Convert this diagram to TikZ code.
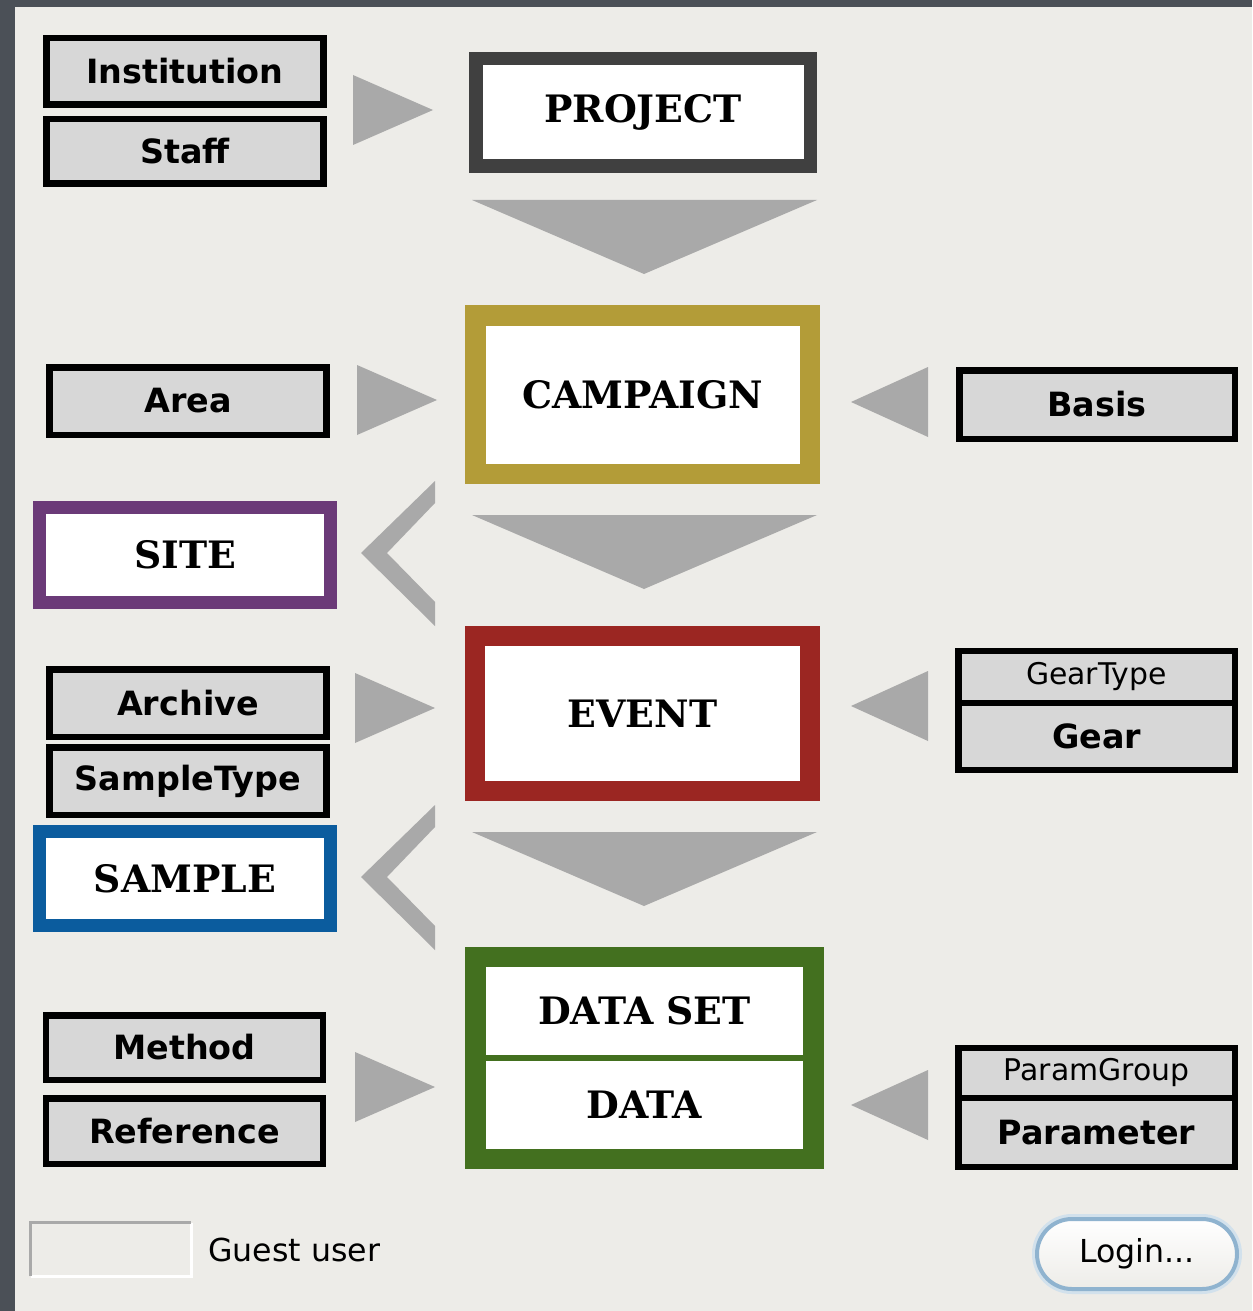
\documentclass[tikz,border=0pt]{standalone}
\usepackage{fontspec}
\setmainfont{DejaVu Serif}
\setsansfont{DejaVu Sans}
\newcommand{\pxu}{0.02cm}
\definecolor{pagebg}{HTML}{EDECE8}
\definecolor{framegray}{HTML}{4B5057}
\definecolor{boxgray}{HTML}{D7D7D7}
\definecolor{arrowgray}{HTML}{A9A9A9}
\definecolor{projgray}{HTML}{404040}
\definecolor{campolive}{HTML}{B39C38}
\definecolor{sitepurple}{HTML}{6B3A78}
\definecolor{eventred}{HTML}{9B2622}
\definecolor{sampleblue}{HTML}{0B5C9E}
\definecolor{datagreen}{HTML}{43701F}
\definecolor{loginblue}{HTML}{8FB3CF}
\begin{document}
\begin{tikzpicture}[x=0.02cm, y=-0.02cm,
  tblbox/.style={draw=black, fill=boxgray, line width=6.5*\pxu, inner sep=0pt, minimum width=277*\pxu, font=\fontsize{19}{22}\selectfont\sffamily\bfseries},
  thinlbl/.style={font=\fontsize{17}{20}\selectfont\sffamily},
  entbox/.style={draw=#1, fill=white, inner sep=0pt, font=\fontsize{21.5}{24}\selectfont\bfseries},
  tri/.style={fill=arrowgray}]
  \useasboundingbox (0,0) rectangle (1252,1311);
  \fill[framegray] (0,0) rectangle (1252,1311);
  \fill[pagebg] (15,7) rectangle (1252,1311);
  % arrows
  \foreach \x/\y in {353/110, 357/400, 355/708, 355/1087} \fill[tri] (\x,\y-35) -- (\x+80,\y) -- (\x,\y+35) -- cycle;
  \foreach \y in {402, 706, 1105} \fill[tri] (928,\y-35) -- (851,\y) -- (928,\y+35) -- cycle;
  \foreach \y in {200, 515, 832} \fill[tri] (472,\y) -- (817,\y) -- (644,\y+74) -- cycle;
  \foreach \y in {553, 877} \fill[tri] (435,\y-72) -- (361,\y) -- (435,\y+73) -- (435,\y+49) -- (387,\y) -- (435,\y-50) -- cycle;
  % left column
  \node[tblbox, minimum height=66.5*\pxu] (inst) at (185,71.5) {Institution};
  \node[tblbox, minimum height=64.5*\pxu] (staff) at (185,151.5) {Staff};
  \node[tblbox, minimum height=67.5*\pxu] (area) at (188,401) {Area};
  \node[entbox=sitepurple, line width=13*\pxu, minimum width=291*\pxu, minimum height=95*\pxu] (site) at (185,555) {SITE};
  \node[tblbox, minimum height=67.5*\pxu] (archive) at (188,703) {Archive};
  \node[tblbox, minimum height=67.5*\pxu] (stype) at (188,781) {SampleType};
  \node[entbox=sampleblue, line width=13*\pxu, minimum width=291*\pxu, minimum height=94*\pxu] (sample) at (185,878.5) {SAMPLE};
  \node[tblbox, minimum height=64.5*\pxu] (method) at (184.5,1047.5) {Method};
  \node[tblbox, minimum height=65.5*\pxu] (reference) at (184.5,1131) {Reference};
  % middle column
  \node[entbox=projgray, line width=13.5*\pxu, minimum width=334.5*\pxu, minimum height=107.5*\pxu] (project) at (643,112.5) {PROJECT};
  \node[entbox=campolive, line width=20.5*\pxu, minimum width=334.5*\pxu, minimum height=158.5*\pxu] (campaign) at (642.5,394.5) {CAMPAIGN};
  \node[entbox=eventred, line width=20*\pxu, minimum width=335*\pxu, minimum height=155*\pxu] (event) at (642.5,713.5) {EVENT};
  \node[fill=datagreen, inner sep=0pt, minimum width=359*\pxu, minimum height=222*\pxu] (datagrp) at (644.5,1058) {};
  \node[entbox=white, draw=none, minimum width=317*\pxu, minimum height=88*\pxu] (dataset) at (644.5,1011) {DATA SET};
  \node[entbox=white, draw=none, minimum width=317*\pxu, minimum height=88*\pxu] (data) at (644.5,1105) {DATA};
  % right column
  \node[tblbox, minimum width=275.5*\pxu, minimum height=68.5*\pxu] (basis) at (1097,404.5) {Basis};
  \node[tblbox, thinlbl, minimum width=276.5*\pxu, minimum height=52*\pxu] (geartype) at (1096.5,677) {GearType};
  \node[tblbox, minimum width=276.5*\pxu, minimum height=67*\pxu] (gear) at (1096.5,736.5) {Gear};
  \node[tblbox, thinlbl, minimum width=276.5*\pxu, minimum height=50*\pxu] (paramgrp) at (1096.5,1073) {ParamGroup};
  \node[tblbox, minimum width=276.5*\pxu, minimum height=69*\pxu] (param) at (1096.5,1132.5) {Parameter};
  % login bar
  \node[inner sep=0pt, minimum width=160*\pxu, minimum height=53*\pxu] (guestbox) at (111,1249.5) {};
  \draw[line width=2.5*\pxu, white] (guestbox.south west) -- (guestbox.south east) -- (guestbox.north east);
  \draw[line width=2.5*\pxu, arrowgray] (guestbox.south west) -- (guestbox.north west) -- (guestbox.north east);
  \node[anchor=west, inner sep=0pt, font=\fontsize{18}{20}\selectfont\sffamily] (guestlbl) at (208,1250) {Guest user};
  \node[draw=loginblue, line width=4*\pxu, rounded corners=0.7cm, top color=white, bottom color=pagebg, inner sep=0pt, minimum width=200*\pxu, minimum height=70*\pxu, font=\fontsize{18}{20}\selectfont\sffamily, preaction={draw=loginblue!40, line width=10*\pxu, rounded corners=0.7cm}] (login) at (1137,1254) {Login...};
\end{tikzpicture}
\end{document}
